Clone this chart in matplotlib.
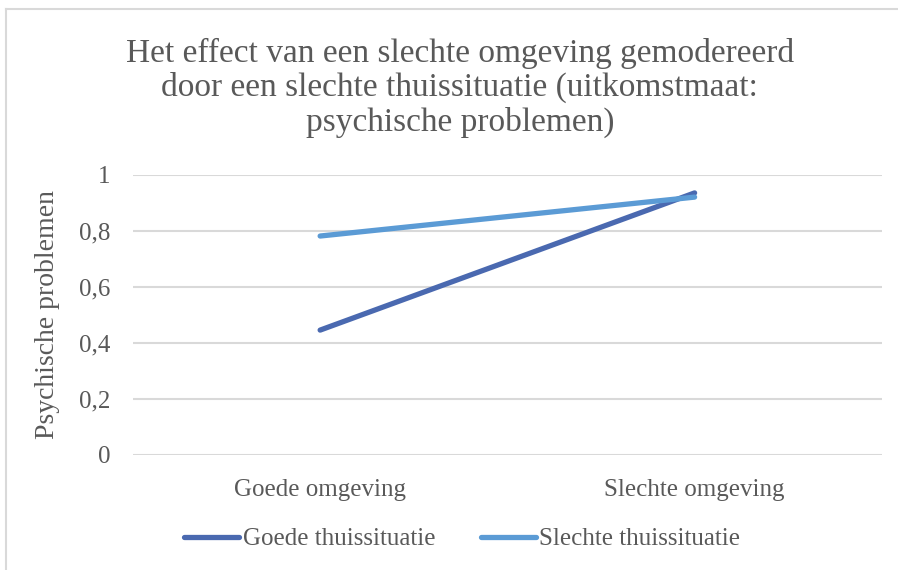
import matplotlib.pyplot as plt
from matplotlib.lines import Line2D

categories = ["Goede omgeving", "Slechte omgeving"]
goede_thuis = [0.446, 0.936]
slechte_thuis = [0.782, 0.921]
yticks = [0, 0.2, 0.4, 0.6, 0.8, 1]
ytick_labels = ["0", "0,2", "0,4", "0,6", "0,8", "1"]

plt.rcParams['font.family'] = ['Liberation Serif', 'DejaVu Serif']
grey = "#595959"

fig = plt.figure(figsize=(8.98, 5.70), dpi=100)
ax = fig.add_axes([0.148, 0.2018, 0.834, 0.4912])

x = range(len(categories))
ax.plot(x, goede_thuis, color="#4a69b0", lw=3.8, solid_capstyle="round", label="Goede thuissituatie")
ax.plot(x, slechte_thuis, color="#5b9bd5", lw=3.8, solid_capstyle="round", label="Slechte thuissituatie")

ax.set_xlim(-0.5, 1.5)
ax.set_ylim(0, 1)
ax.set_yticks(yticks)
ax.set_yticklabels(ytick_labels)
ax.set_xticks(list(x))
ax.set_xticklabels(categories)
ax.tick_params(axis="both", length=0, labelsize=18, colors=grey)
ax.tick_params(axis="y", pad=16)
ax.tick_params(axis="x", pad=17)
ax.yaxis.grid(True, color="#d9d9d9", lw=1.5)
ax.set_axisbelow(True)
for s in ax.spines.values():
    s.set_visible(False)
ax.set_ylabel("Psychische problemen", fontsize=20, color=grey, labelpad=14)

fig.text(0.512, 0.846, "Het effect van een slechte omgeving gemodereerd\n"
         "door een slechte thuissituatie (uitkomstmaat:\npsychische problemen)",
         ha="center", va="center", fontsize=24, color=grey, linespacing=1.13)

leg = fig.legend(loc="center", bbox_to_anchor=(0.515, 0.054), ncol=2, frameon=False,
                 fontsize=18, handlelength=2.2, handletextpad=0.15, columnspacing=1.8)
for t in leg.get_texts():
    t.set_color(grey)

# outer chart border (cropped at right/bottom)
fig.add_artist(Line2D([0.007, 1.0], [0.984, 0.984], color="#d9d9d9", lw=1.5, transform=fig.transFigure))
fig.add_artist(Line2D([0.007, 0.007], [0.0, 0.984], color="#d9d9d9", lw=1.5, transform=fig.transFigure))

fig.savefig("out.png", dpi=100)
